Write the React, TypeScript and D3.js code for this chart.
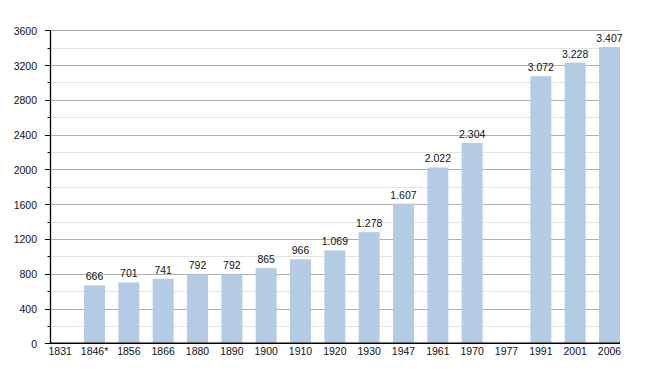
import React, { useEffect, useRef } from 'react';
import * as d3 from 'd3';

const years = ['1831', '1846*', '1856', '1866', '1880', '1890', '1900', '1910', '1920', '1930', '1947', '1961', '1970', '1977', '1991', '2001', '2006'];
const population: (number | null)[] = [null, 666, 701, 741, 792, 792, 865, 966, 1069, 1278, 1607, 2022, 2304, null, 3072, 3228, 3407];
const yTicks = [0, 400, 800, 1200, 1600, 2000, 2400, 2800, 3200, 3600];
const yMinor = [200, 600, 1000, 1400, 1800, 2200, 2600, 3000, 3400];

const W = 650;
const H = 373;

const App = () => {
  const ref = useRef<SVGSVGElement>(null);

  useEffect(() => {
    const svg = d3.select(ref.current);
    svg.selectAll('*').remove();

    const left = 50, right = 620, top = 30.3, bottom = 343.3;
    const font = 'Liberation Sans, Arial, Helvetica, sans-serif';

    const x = d3.scalePoint<string>().domain(years).range([60.2, 609.5]);
    const y = d3.scaleLinear().domain([0, 3600]).range([bottom, top]);
    const barW = 21;

    const fmt = d3.formatLocale({ decimal: ',', thousands: '.', grouping: [3], currency: ['', '€'] }).format(',d');

    // grid
    svg.append('g').selectAll('line').data(yMinor).join('line')
      .attr('x1', left).attr('x2', right)
      .attr('y1', d => Math.round(y(d)) + 0.5).attr('y2', d => Math.round(y(d)) + 0.5)
      .attr('stroke', '#e3e3e3').attr('stroke-width', 1);
    svg.append('g').selectAll('line').data(yTicks.filter(d => d > 0)).join('line')
      .attr('x1', left).attr('x2', right)
      .attr('y1', d => Math.round(y(d)) + 0.5).attr('y2', d => Math.round(y(d)) + 0.5)
      .attr('stroke', '#b0b0b0').attr('stroke-width', 1);

    // bars
    const rows = years.map((yr, i) => ({ yr, v: population[i] })).filter(d => d.v != null) as { yr: string; v: number }[];
    svg.append('g').selectAll('rect').data(rows).join('rect')
      .attr('x', d => x(d.yr)! - barW / 2)
      .attr('width', barW)
      .attr('y', d => y(d.v))
      .attr('height', d => bottom - y(d.v))
      .attr('fill', '#b3cbe3');

    svg.append('g').selectAll('text').data(rows).join('text')
      .attr('x', d => x(d.yr)!)
      .attr('y', d => y(d.v) - 5)
      .attr('text-anchor', 'middle')
      .attr('font-family', font)
      .attr('font-size', 10.5)
      .attr('fill', '#111')
      .text(d => fmt(d.v));

    // y axis
    svg.append('line').attr('x1', left + 0.5).attr('x2', left + 0.5).attr('y1', top).attr('y2', bottom)
      .attr('stroke', '#000').attr('stroke-width', 1.3);
    svg.append('g').selectAll('line').data(yTicks).join('line')
      .attr('x1', left - 5).attr('x2', left)
      .attr('y1', d => Math.round(y(d)) + 0.5).attr('y2', d => Math.round(y(d)) + 0.5)
      .attr('stroke', '#000');
    svg.append('g').selectAll('line').data(yMinor).join('line')
      .attr('x1', left - 2.5).attr('x2', left)
      .attr('y1', d => Math.round(y(d)) + 0.5).attr('y2', d => Math.round(y(d)) + 0.5)
      .attr('stroke', '#000');
    svg.append('g').selectAll('text').data(yTicks).join('text')
      .attr('x', 37)
      .attr('y', d => y(d) + 4.5)
      .attr('text-anchor', 'end')
      .attr('font-family', font)
      .attr('font-size', 10.5)
      .attr('fill', '#111')
      .text(d => String(d));

    // x axis
    svg.append('line').attr('x1', left).attr('x2', right).attr('y1', bottom).attr('y2', bottom)
      .attr('stroke', '#000').attr('stroke-width', 1.5);
    svg.append('g').selectAll('text').data(years).join('text')
      .attr('x', d => x(d)!)
      .attr('y', 355)
      .attr('text-anchor', 'middle')
      .attr('font-family', font)
      .attr('font-size', 10.5)
      .attr('fill', '#111')
      .text(d => d);
  }, []);

  return (
    <svg ref={ref} width={W} height={H} style={{ position: 'absolute', left: 0, top: 0, background: '#fff' }} />
  );
};

export default App;
